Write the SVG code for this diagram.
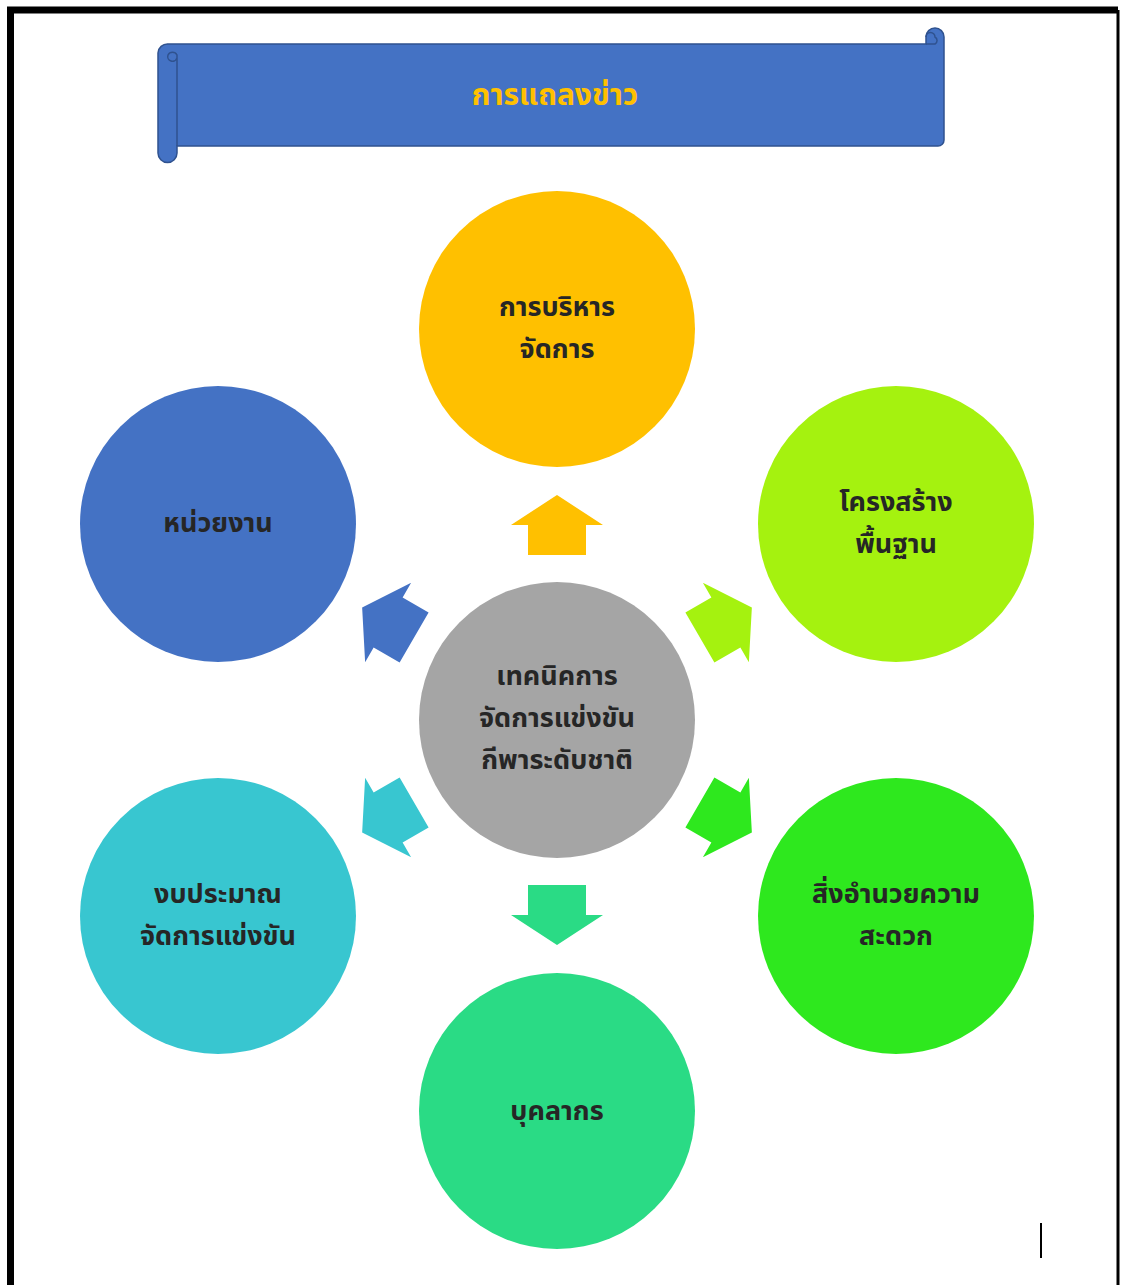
<svg xmlns="http://www.w3.org/2000/svg" width="1121" height="1285" viewBox="0 0 1121 1285">
<style>
.lbl{font-family:"Noto Sans Thai","Noto Sans","DejaVu Sans",sans-serif;font-size:27px;font-weight:bold;fill:#262626;text-anchor:middle;dominant-baseline:central}
.title{font-family:"Noto Sans Thai","Noto Sans","DejaVu Sans",sans-serif;font-size:30px;font-weight:bold;fill:#FFC000;text-anchor:middle;dominant-baseline:central}
</style>
<defs>
<polygon id="arr" points="0,-225 46,-195 29,-195 29,-165 -29,-165 -29,-195 -46,-195"/>
</defs>
<rect width="1121" height="1285" fill="#fff"/>
<g id="frame" fill="none" stroke="#000">
<path d="M10.5,1285 V10 H1118" stroke-width="7"/>
<path d="M1118,10 V1285" stroke-width="3"/>
<path d="M1041,1223 V1258" stroke-width="2"/>
</g>
<g id="banner">
<path d="M168,44 H926 V37 A9,9 0 0 1 944,37 V140 A6,6 0 0 1 938,146 H177 V153 A9.5,9.5 0 0 1 158,153 V53 A9.5,9.5 0 0 1 168,44 Z" fill="#4472C4" stroke="#2F528F" stroke-width="1.5"/>
<path d="M177,146 V55 A5,5 0 0 0 168,55 A4,4 0 0 0 177,58" fill="none" stroke="#2F528F" stroke-width="1.5"/>
<path d="M926,44 H935 A4,4 0 0 0 935,37 A4.5,4.5 0 0 0 926,37" fill="none" stroke="#2F528F" stroke-width="1.5"/>
<text class="title" x="555" y="96">การแถลงข่าว</text>
</g>
<g id="connectors" transform="translate(557,720)">
<use href="#arr" fill="#FFC000"/>
<use href="#arr" fill="#A5F20F" transform="rotate(60)"/>
<use href="#arr" fill="#2EE81E" transform="rotate(120)"/>
<use href="#arr" fill="#2ADB85" transform="rotate(180)"/>
<use href="#arr" fill="#38C6D0" transform="rotate(240)"/>
<use href="#arr" fill="#4472C4" transform="rotate(300)"/>
</g>
<g id="center">
<circle cx="557" cy="720" r="138" fill="#A5A5A5"/>
<text class="lbl" x="557" y="676">เทคนิคการ</text>
<text class="lbl" x="557" y="718">จัดการแข่งขัน</text>
<text class="lbl" x="557" y="760">กีพาระดับชาติ</text>
</g>
<g id="n-top">
<circle cx="557" cy="329" r="138" fill="#FFC000"/>
<text class="lbl" x="557" y="307">การบริหาร</text>
<text class="lbl" x="557" y="349">จัดการ</text>
</g>
<g id="n-upright">
<circle cx="896" cy="524" r="138" fill="#A5F20F"/>
<text class="lbl" x="896" y="502">โครงสร้าง</text>
<text class="lbl" x="896" y="544">พื้นฐาน</text>
</g>
<g id="n-lowright">
<circle cx="896" cy="916" r="138" fill="#2EE81E"/>
<text class="lbl" x="896" y="894">สิ่งอำนวยความ</text>
<text class="lbl" x="896" y="936">สะดวก</text>
</g>
<g id="n-bottom">
<circle cx="557" cy="1111" r="138" fill="#2ADB85"/>
<text class="lbl" x="557" y="1111">บุคลากร</text>
</g>
<g id="n-lowleft">
<circle cx="218" cy="916" r="138" fill="#38C6D0"/>
<text class="lbl" x="218" y="894">งบประมาณ</text>
<text class="lbl" x="218" y="936">จัดการแข่งขัน</text>
</g>
<g id="n-upleft">
<circle cx="218" cy="524" r="138" fill="#4472C4"/>
<text class="lbl" x="218" y="523">หน่วยงาน</text>
</g>
</svg>
